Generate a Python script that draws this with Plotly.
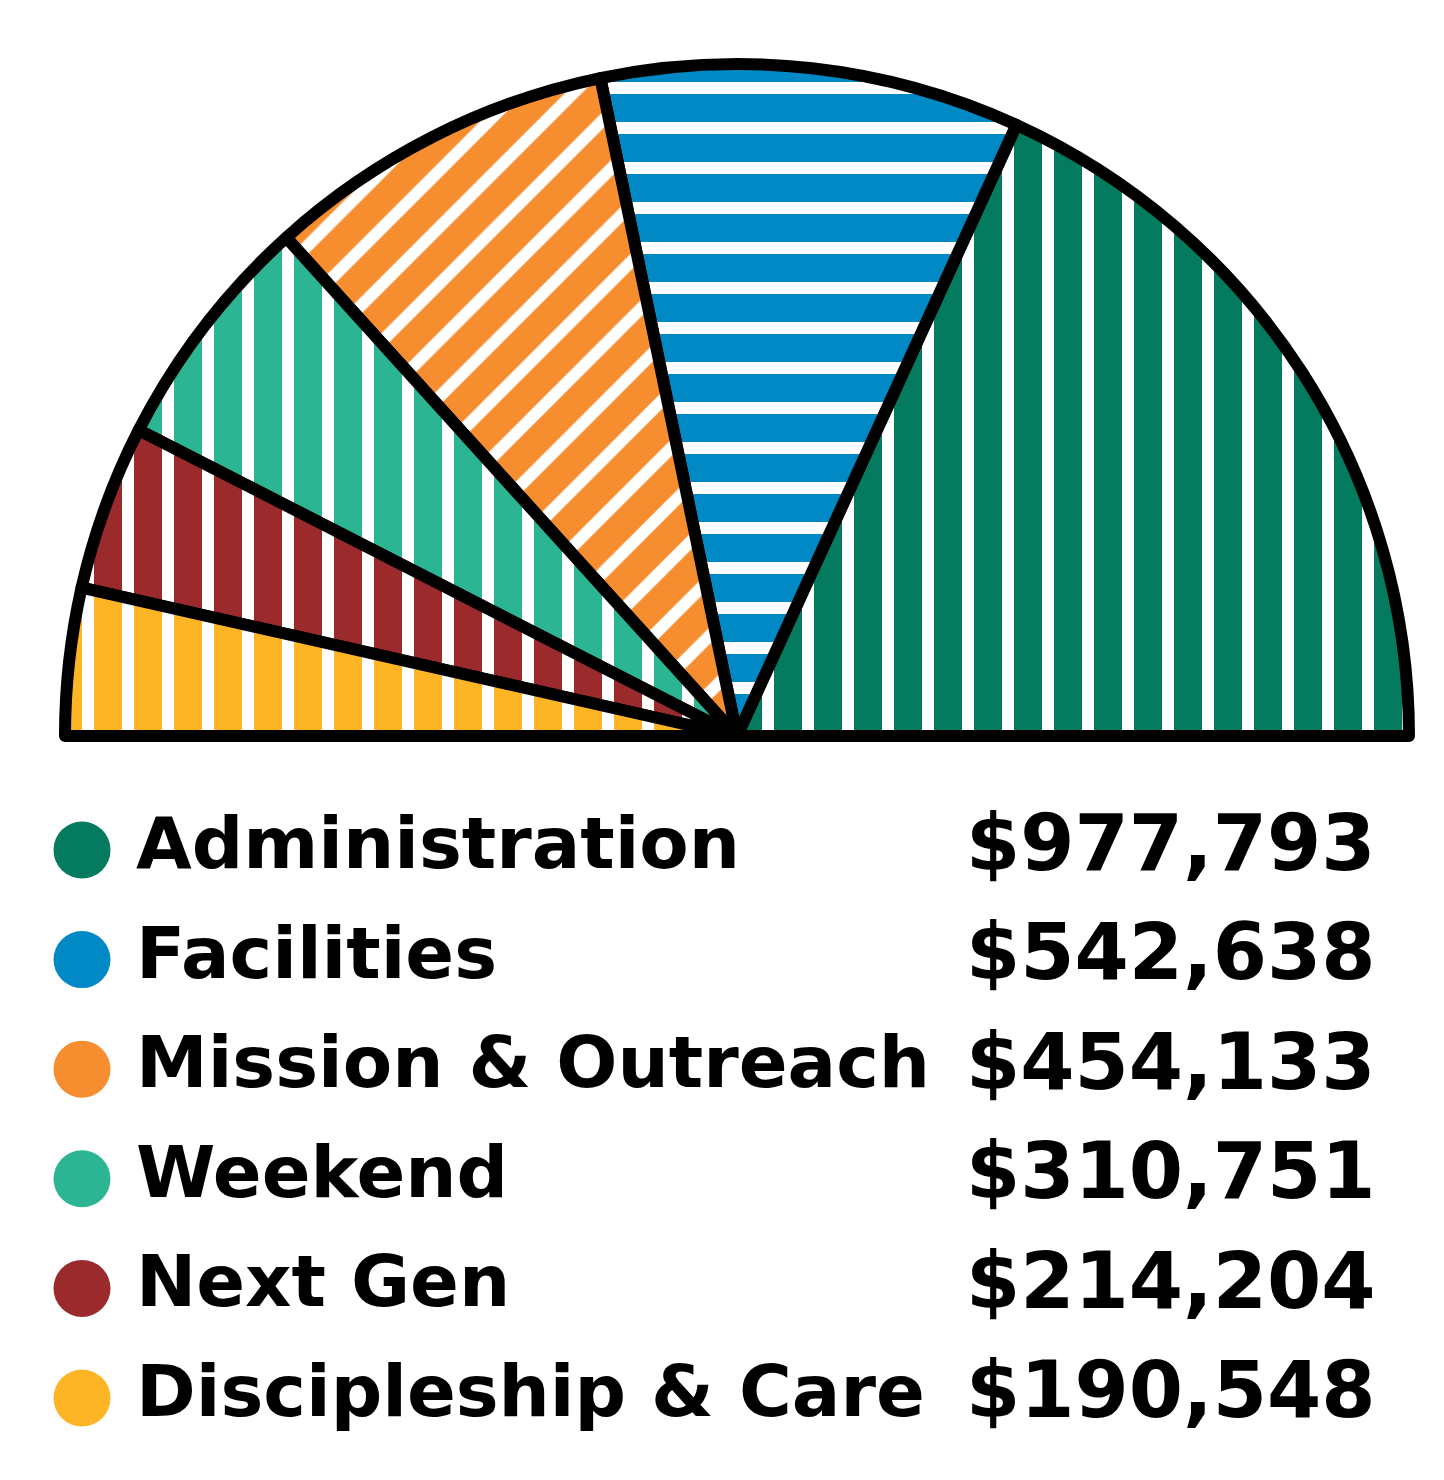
import plotly.graph_objects as go

# budget by ministry area
categories = ["Administration", "Facilities", "Mission & Outreach", "Weekend", "Next Gen", "Discipleship & Care"]
amounts = [977793, 542638, 454133, 310751, 214204, 190548]
colors = ["#047a5e", "#0089c4", "#f68d2f", "#2bb592", "#9a2a2b", "#fdb526"]
# rough stroke direction of the crayon scribble in each slice
strokes = ["|", "-", "/", "|", "|", "|"]

W, H = 1444, 1480

# half pie: an invisible slice as big as the rest fills the lower half
pie_values = [sum(amounts)] + amounts
pie_colors = ["rgba(0,0,0,0)"] + colors
line_widths = [0] + [12] * len(amounts)

fig = go.Figure()

fig.add_trace(go.Pie(
    values=pie_values,
    labels=["hidden"] + categories,
    sort=False,
    direction="counterclockwise",
    rotation=90,
    textinfo="none",
    hoverinfo="skip",
    showlegend=False,
    marker=dict(
        colors=pie_colors,
        line=dict(color="black", width=line_widths),
        pattern=dict(shape=[""] + strokes, fgcolor=pie_colors, bgcolor="white",
                     solidity=0.7, size=40, fillmode="replace"),
    ),
    domain=dict(x=[57 / W, 1401 / W], y=[80 / H, 1424 / H]),
))

# legend rows drawn as a scatter on a hidden axis
fig.add_trace(go.Scatter(
    x=[74] * len(categories), y=categories, mode="markers",
    marker=dict(size=57, color=colors, line=dict(width=0)),
    hoverinfo="skip", showlegend=False,
))
fig.add_trace(go.Scatter(
    x=[128] * len(categories), y=categories, mode="text",
    text=categories, textposition="middle right",
    textfont=dict(family="DejaVu Sans", size=72, color="black", weight="bold"),
    hoverinfo="skip", showlegend=False,
))
fig.add_trace(go.Scatter(
    x=[958] * len(categories), y=categories, mode="text",
    text=[f"${v:,}" for v in amounts], textposition="middle right",
    textfont=dict(family="DejaVu Sans", size=78, color="black", weight="bold"),
    hoverinfo="skip", showlegend=False,
))

fig.update_layout(
    width=W, height=H,
    margin=dict(l=0, r=0, t=0, b=0),
    paper_bgcolor="white", plot_bgcolor="white",
    xaxis=dict(range=[0, W], domain=[0, 1], visible=False, fixedrange=True),
    yaxis=dict(type="category", categoryorder="array", categoryarray=categories,
               range=[5.5, -0.5], domain=[0.0238, 0.4681], visible=False, fixedrange=True),
)

fig.write_html("out.html")
